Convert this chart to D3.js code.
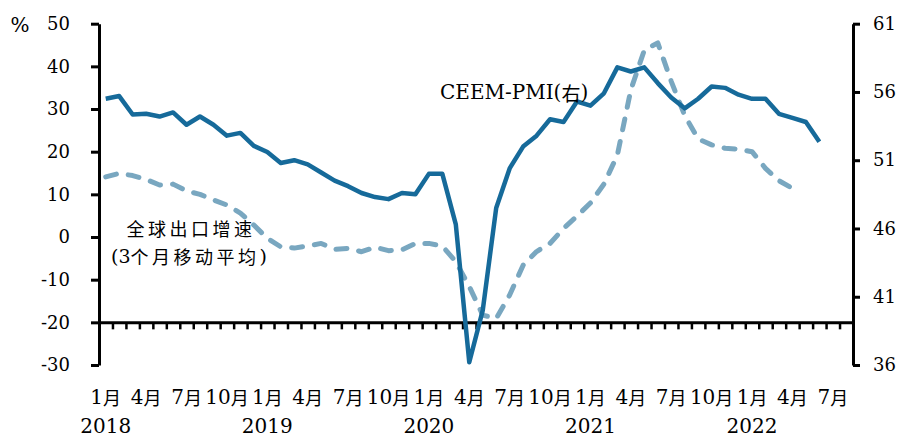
<!DOCTYPE html>
<html>
<head>
<meta charset="utf-8">
<script src="https://cdn.jsdelivr.net/npm/d3@7"></script>
<style>
  html, body { margin: 0; padding: 0; background: #fff; }
  svg { display: block; }
</style>
</head>
<body>
<svg id="chart" width="901" height="437"></svg>
<script>
// Monthly categories, Jan 2018 – Aug 2022
const years = [2018, 2019, 2020, 2021, 2022];
const monthNames = ["1月","2月","3月","4月","5月","6月","7月","8月","9月","10月","11月","12月"];
const months = [];
years.forEach(y => monthNames.forEach((m, k) => {
  if (y < 2022 || k < 8) months.push({ year: y, month: k + 1, label: m });
}));

// CEEM-PMI (right axis)
const pmi = [
  55.5, 55.7, 54.35, 54.4, 54.2, 54.5, 53.6, 54.2, 53.6, 52.8, 53.0, 52.05,
  51.6, 50.8, 51.0, 50.7, 50.1, 49.5, 49.1, 48.6, 48.3, 48.15, 48.6, 48.5,
  50.0, 50.0, 46.3, 36.2, 40.0, 47.5, 50.4, 52.0, 52.8, 54.0, 53.8, 55.3,
  55.0, 55.9, 57.8, 57.5, 57.8, 56.65, 55.6, 54.8, 55.5, 56.4, 56.3, 55.8,
  55.5, 55.5, 54.4, 54.1, 53.8, 52.35
];

// Global export growth, 3-month moving average, % (left axis)
const exportGrowth = [
  14.1, 14.9, 14.4, 13.5, 12.2, 12.4, 10.8, 10.0, 8.7, 7.5, 5.6, 2.8,
  -0.3, -2.3, -2.6, -2.1, -1.5, -2.9, -2.65, -3.45, -2.4, -3.2, -3.0, -1.5,
  -1.5, -2.1, -5.8, -11.6, -18.3, -19.1, -13.6, -6.6, -3.4, -1.5, 2.0, 4.9,
  8.0, 12.4, 19.2, 34.5, 43.8, 45.5, 36.5, 28.5, 23.0, 21.6, 20.8, 20.6,
  20.0, 16.1, 13.2, 11.4
];

const leftTicks = [-30, -20, -10, 0, 10, 20, 30, 40, 50];
const rightTicks = [36, 41, 46, 51, 56, 61];

const svg = d3.select("#chart");
const serif = "'DejaVu Serif', 'Liberation Serif', serif";
const cjk = "'Noto Sans CJK SC', sans-serif";

const plot = { left: 99, right: 853, top: 23.7, bottom: 365 };

const x = d3.scaleBand().domain(d3.range(months.length))
  .range([plot.left, plot.right]).paddingInner(0).paddingOuter(0);
const xIdx = d3.scaleLinear().domain([0, months.length]).range([plot.left, plot.right]);
const yL = d3.scaleLinear().domain([-30, 50]).range([plot.bottom, plot.top]);
const yR = d3.scaleLinear().domain([36, 61]).range([plot.bottom, plot.top]);
const cx = i => x(i) + x.bandwidth() / 2;
const plain = d => String(d);

// Category axis sits at -20 on the left scale
const xAxisY = yL(-20);
const gx = svg.append("g").attr("transform", `translate(0,${xAxisY})`)
  .call(d3.axisBottom(xIdx).tickValues(d3.range(1, months.length))
    .tickSize(7).tickSizeOuter(0).tickFormat(""));
gx.select(".domain").attr("stroke", "#000").attr("stroke-width", 3);
gx.selectAll(".tick line").attr("stroke", "#000").attr("stroke-width", 2.5);

// Left value axis
const gl = svg.append("g").attr("transform", `translate(${plot.left},0)`)
  .call(d3.axisLeft(yL).tickValues(leftTicks).tickSize(8).tickSizeOuter(0)
    .tickPadding(21).tickFormat(plain));
gl.select(".domain").attr("stroke", "#000").attr("stroke-width", 3);
gl.selectAll(".tick line").attr("stroke", "#000").attr("stroke-width", 3);
gl.selectAll(".tick text").attr("font-family", serif).attr("font-size", 18).attr("fill", "#000");

// Right value axis
const gr = svg.append("g").attr("transform", `translate(${plot.right},0)`)
  .call(d3.axisRight(yR).tickValues(rightTicks).tickSize(7).tickSizeOuter(0)
    .tickPadding(13).tickFormat(plain));
gr.select(".domain").attr("stroke", "#000").attr("stroke-width", 3);
gr.selectAll(".tick line").attr("stroke", "#000").attr("stroke-width", 3);
gr.selectAll(".tick text").attr("font-family", serif).attr("font-size", 18).attr("fill", "#000");

// Unit label
svg.append("text").attr("x", 20).attr("y", 25).attr("text-anchor", "middle")
  .attr("dominant-baseline", "central").attr("font-family", serif).attr("font-size", 20)
  .text("%");

// Month labels every quarter, year labels under each January
const monthLabels = svg.append("g");
months.forEach((m, i) => {
  if ((m.month - 1) % 3 !== 0) return;
  const t = monthLabels.append("text").attr("x", cx(i)).attr("y", 397)
    .attr("text-anchor", "middle").attr("dominant-baseline", "central");
  t.append("tspan").attr("font-family", serif).attr("font-size", 20).text(String(m.month));
  t.append("tspan").attr("font-family", cjk).attr("font-size", 18).text("月");
});
months.forEach((m, i) => {
  if (m.month !== 1) return;
  svg.append("text").attr("x", cx(i)).attr("y", 426).attr("text-anchor", "middle")
    .attr("dominant-baseline", "central").attr("font-family", serif).attr("font-size", 20)
    .text(String(m.year));
});

// Series
const lineL = d3.line().x((d, i) => cx(i)).y(d => yL(d));
const lineR = d3.line().x((d, i) => cx(i)).y(d => yR(d));

svg.append("path").datum(exportGrowth).attr("d", lineL)
  .attr("fill", "none").attr("stroke", "#79a7c0").attr("stroke-width", 5)
  .attr("stroke-dasharray", "11 12").attr("stroke-linecap", "round")
  .attr("stroke-linejoin", "round");

svg.append("path").datum(pmi).attr("d", lineR)
  .attr("fill", "none").attr("stroke", "#166a9a").attr("stroke-width", 4.5)
  .attr("stroke-linejoin", "round");

// Series annotations
const pmiLabel = svg.append("text").attr("x", 440).attr("y", 92)
  .attr("dominant-baseline", "central");
pmiLabel.append("tspan").attr("font-family", serif).attr("font-size", 20).text("CEEM-PMI(");
pmiLabel.append("tspan").attr("font-family", cjk).attr("font-size", 19).text("右");
pmiLabel.append("tspan").attr("font-family", serif).attr("font-size", 20).text(")");

svg.append("text").attr("x", 191).attr("y", 228).attr("text-anchor", "middle")
  .attr("dominant-baseline", "central").attr("font-family", cjk).attr("font-size", 18)
  .attr("letter-spacing", 3.5).text("全球出口增速");
const ma = svg.append("text").attr("x", 189).attr("y", 256).attr("text-anchor", "middle")
  .attr("dominant-baseline", "central");
ma.append("tspan").attr("font-family", serif).attr("font-size", 19).text("(3");
ma.append("tspan").attr("font-family", cjk).attr("font-size", 18).attr("letter-spacing", 3.5).text("个月移动平均");
ma.append("tspan").attr("font-family", serif).attr("font-size", 19).text(")");
</script>
</body>
</html>
